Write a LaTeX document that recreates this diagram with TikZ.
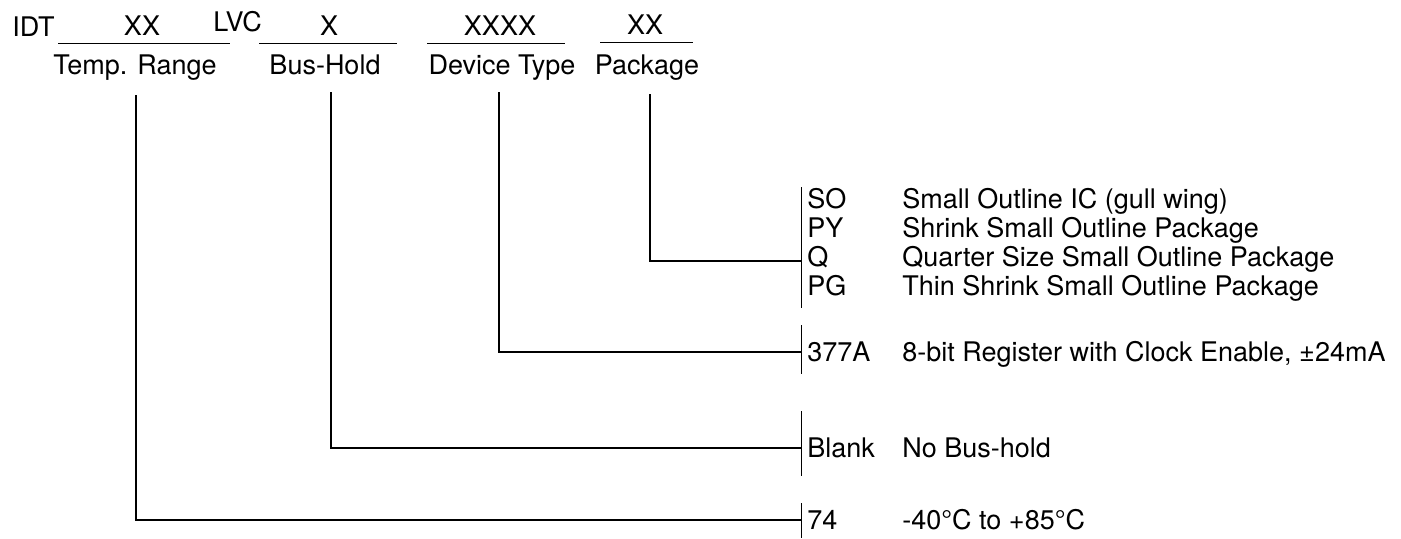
\documentclass[tikz,border=0pt]{standalone}
\usepackage{fontspec}
\setmainfont{TeX Gyre Heros}
\usetikzlibrary{positioning}

\tikzset{
  field/.style={anchor=base, inner sep=0pt},
  code/.style={anchor=base west, inner sep=0pt},
  conn/.style={line width=0.8pt},
  bar/.style={line width=0.5pt},
  uline/.style={line width=0.5pt}
}

\begin{document}
\begin{tikzpicture}[x=0.5pt, y=-0.5pt, font=\fontsize{13.5}{16}\selectfont]
        \useasboundingbox (0,0) rectangle (1401,538);

        % Part number fields
        \node[code] (idt) at (12,36) {IDT};
        \node[field] (tempVal) at (142,35) {XX};
        \node[code] (lvc) at (213,31) {LVC};
        \node[field] (busVal) at (329,35) {X};
        \node[field] (devVal) at (500,35) {XXXX};
        \node[field] (pkgVal) at (645,34) {XX};

        % Underlines
        \draw[uline] (58,43) -- (230,43);
        \draw[uline] (259,43) -- (397,43);
        \draw[uline] (427,43) -- (565,43);
        \draw[uline] (600,42) -- (693,42);

        % Field names
        \node[field] (tempLbl) at (135,74) {Temp. Range};
        \node[field] (busLbl) at (325,74) {Bus-Hold};
        \node[field] (devLbl) at (502,74) {Device Type};
        \node[field] (pkgLbl) at (647,74) {Package};

        % Package options
        \draw[bar] (801,187) -- (801,308);
        \coordinate (pkgBar) at (801,261);
        \node[code] (so) at (807,208) {SO};
        \node[code] (soTxt) at (902,208) {Small Outline IC (gull wing)};
        \node[code] (py) at (807,237) {PY};
        \node[code] (pyTxt) at (902,237) {Shrink Small Outline Package};
        \node[code] (q) at (807,266) {Q};
        \node[code] (qTxt) at (902,266) {Quarter Size Small Outline Package};
        \node[code] (pg) at (807,295) {PG};
        \node[code] (pgTxt) at (902,295) {Thin Shrink Small Outline Package};

        % Device type
        \draw[bar] (801,325) -- (801,374);
        \coordinate (devBar) at (801,352);
        \node[code] (dev) at (807,361) {377A};
        \node[code] (devTxt) at (902,361) {8-bit Register with Clock Enable, ±24mA};

        % Bus-hold
        \draw[bar] (801,411) -- (801,476);
        \coordinate (busBar) at (801,448);
        \node[code] (blank) at (807,457) {Blank};
        \node[code] (blankTxt) at (902,457) {No Bus-hold};

        % Temperature range
        \draw[bar] (801,503) -- (801,538);
        \coordinate (tempBar) at (801,520);
        \node[code] (temp) at (807,529) {74};
        \node[code] (tempTxt) at (902,529) {-40°C to +85°C};

        % Connecting lines
        \coordinate (tempTop) at (136,95);
        \coordinate (busTop) at (331,92);
        \coordinate (devTop) at (499,92);
        \coordinate (pkgTop) at (650,94);
        \draw[conn] (tempTop) |- (tempBar);
        \draw[conn] (busTop) |- (busBar);
        \draw[conn] (devTop) |- (devBar);
        \draw[conn] (pkgTop) |- (pkgBar);
    \end{tikzpicture}
\end{document}
